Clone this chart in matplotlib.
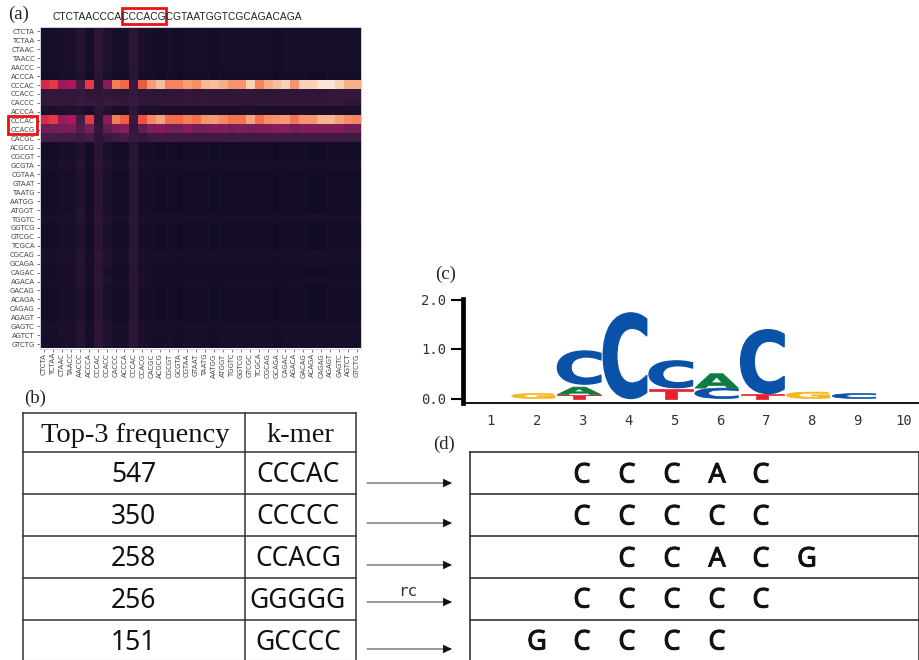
import matplotlib
matplotlib.use("Agg")
import matplotlib.pyplot as plt
import matplotlib.patheffects as pe
import numpy as np
from matplotlib.colors import LinearSegmentedColormap
from matplotlib.font_manager import FontProperties
from matplotlib.patches import PathPatch, Rectangle
from matplotlib.textpath import TextPath
from matplotlib.transforms import Affine2D

W, H = 920, 660
sequence = "CTCTAACCCACCCACGCGTAATGGTCGCAGACAGA"
kmers = ["CTCTA","TCTAA","CTAAC","TAACC","AACCC","ACCCA","CCCAC","CCACC","CACCC","ACCCA","CCCAC","CCACG",
         "CACGC","ACGCG","CGCGT","GCGTA","CGTAA","GTAAT","TAATG","AATGG","ATGGT","TGGTC","GGTCG","GTCGC",
         "TCGCA","CGCAG","GCAGA","CAGAC","AGACA","GACAG","ACAGA","CAGAG","AGAGT","GAGTC","AGTCT","GTCTG"]

quiet = [.07,.07,.08,.08,.11,.07,.13,.09,.07,.07,.13,.08,.07,.06,.07,.06,.07,.07,.07,.06,.07,.07,.07,.07,.07,.07,.06,.07,.07,.07,.07,.07,.07,.07,.07,.07]
lowest = [.06,.06,.07,.07,.10,.06,.125,.08,.06,.06,.125,.07,.06,.05,.06,.05,.06,.06,.06,.05,.06,.06,.06,.06,.06,.06,.05,.06,.06,.06,.05,.05,.06,.06,.06,.06]
faint = [.075,.075,.085,.085,.115,.07,.135,.095,.075,.075,.135,.08,.075,.07,.075,.07,.075,.075,.075,.07,.075,.075,.075,.075,.075,.075,.07,.075,.075,.075,.075,.075,.075,.075,.075,.075]
cccac_a = [.57,.62,.42,.48,.20,.62,.13,.38,.78,.72,.17,.68,.85,.92,.79,.79,.85,.81,.91,.92,.89,.83,.83,.95,.79,.89,.92,.95,.83,.95,.95,.99,.99,.95,.89,.89]
ccacc = [.15,.15,.15,.15,.16,.13,.13,.15,.14,.13,.16,.13,.13,.13,.13,.14,.15,.14,.15,.14,.14,.14,.15,.15,.14,.13,.13,.14,.13,.14,.14,.14,.15,.15,.16,.16]
caccc = [.15,.15,.16,.15,.17,.16,.15,.17,.16,.15,.17,.15,.14,.15,.15,.15,.15,.15,.15,.15,.15,.15,.15,.14,.15,.15,.15,.15,.15,.15,.15,.15,.15,.15,.14,.14]
accca = [.08,.08,.09,.09,.10,.07,.13,.10,.08,.08,.14,.08,.08,.08,.08,.08,.08,.08,.08,.08,.08,.08,.08,.08,.08,.07,.08,.08,.08,.08,.08,.08,.08,.08,.08,.08]
cccac_b = [.57,.62,.42,.48,.20,.62,.13,.38,.77,.70,.17,.67,.80,.86,.74,.73,.78,.74,.83,.84,.80,.75,.75,.86,.74,.81,.83,.84,.75,.83,.83,.90,.90,.85,.81,.79]
ccacg = [.32,.32,.34,.34,.24,.34,.15,.28,.34,.38,.15,.27,.37,.38,.33,.33,.38,.33,.33,.36,.36,.33,.36,.33,.35,.36,.38,.38,.33,.36,.36,.35,.36,.36,.32,.32]
cacgc = [.20,.20,.20,.20,.18,.20,.13,.17,.18,.20,.17,.15,.18,.19,.19,.18,.19,.18,.18,.19,.19,.18,.19,.18,.19,.19,.19,.19,.18,.19,.19,.19,.19,.19,.18,.18]
heat_rows = [quiet,quiet,quiet,quiet,quiet,lowest,cccac_a,ccacc,caccc,accca,cccac_b,ccacg,cacgc,
             lowest,lowest,faint,lowest,lowest,lowest,lowest,lowest,faint,lowest,lowest,lowest,
             faint,quiet,lowest,quiet,lowest,lowest,lowest,lowest,faint,quiet,quiet]

logo_pos = [2,3,3,3,4,5,5,6,6,7,7,8,9]
logo_base = ["G","T","A","C","C","T","C","C","A","T","C","G","C"]
logo_bottom = [0,0,.08,.29,0,0,.22,0,.21,0,.10,0,0]
logo_top = [.10,.08,.23,.96,1.73,.20,.76,.21,.50,.10,1.39,.13,.10]
logo_colors = {"A":"#0b7d3e","C":"#0a52a8","G":"#f6b71c","T":"#e8212e"}
logo_xticks = list(range(1,11))
logo_yticks = [0.0,1.0,2.0]

table_head = ["Top-3 frequency","k-mer"]
frequency = ["547","350","258","256","151"]
top_kmers = ["CCCAC","CCCCC","CCACG","GGGGG","GCCCC"]
alignment = [" CCCAC"," CCCCC","  CCACG"," CCCCC","GCCCC"]
align_x = [537,582,627,672,717,761,807]
row_lines = [452,494,536,578,620]
arrow_y = [483,523,565,602,649]

rocket = LinearSegmentedColormap.from_list("rk",["#03051a","#221331","#451c47","#6a1f56","#921c5b","#b91657",
                                                 "#e13342","#f06043","#f58860","#f6b48e","#faebdd"])
plt.rcParams["font.family"] = "DejaVu Sans"
fig = plt.figure(figsize=(W/100,H/100),dpi=100,facecolor="white")

def px_axes(x0,y0,x1,y1,**k):
    return fig.add_axes([x0/W,1-y1/H,(x1-x0)/W,(y1-y0)/H],**k)

# (a) heat map
ax = px_axes(39.5,27,361.5,348.5)
ax.imshow(np.array(heat_rows),cmap=rocket,vmin=0,vmax=1,aspect="auto",interpolation="nearest")
ax.set_xticks(range(len(kmers)),kmers,rotation=90,fontsize=5,color="#444444")
ax.set_yticks(range(len(kmers)),kmers,fontsize=5,color="#444444")
ax.tick_params(length=2,width=.5,pad=1.5,color="#444444")
for s in ax.spines.values():
    s.set_color("#d4d4e0"); s.set_linewidth(.7)

# (c) sequence logo
lg = px_axes(463,299,920,403)
lg.set_xlim(1-(491-463)/45.8,1+(920-491)/45.8)
lg.set_ylim(-(403-398.5)/49.5,(398.5-299)/49.5)
fp = FontProperties(family="DejaVu Sans",weight="bold")
for p,b,y0,y1 in zip(logo_pos,logo_base,logo_bottom,logo_top):
    tp = TextPath((0,0),b,size=1,prop=fp)
    e = tp.get_extents()
    tr = Affine2D().translate(-e.x0,-e.y0).scale(.95/e.width,(y1-y0)/e.height).translate(p-.55,y0)
    lw = 1.0 if b == "C" and y1-y0 > .5 else .5
    lg.add_patch(PathPatch(tp,transform=tr+lg.transData,fc=logo_colors[b],ec=logo_colors[b],lw=lw))
lg.set_xticks(logo_xticks,[str(v) for v in logo_xticks],fontsize=10,family="DejaVu Sans Mono",color="#333333")
lg.set_yticks(logo_yticks,[f"{v:.1f}" for v in logo_yticks],fontsize=10,family="DejaVu Sans Mono",color="#333333")
lg.tick_params(axis="x",length=0,pad=8)
lg.tick_params(axis="y",length=9,width=1.5,pad=3)
for s in ["top","right"]:
    lg.spines[s].set_visible(False)
lg.spines["left"].set_linewidth(3.4)
lg.spines["bottom"].set_linewidth(1.3)

# overlay in figure pixels
ov = px_axes(0,0,W,H)
ov.set_xlim(0,W); ov.set_ylim(H,0); ov.axis("off"); ov.patch.set_alpha(0)
serif = "Liberation Serif"
for t,x,y in [("(a)",19,14),("(b)",35,398),("(c)",446,274),("(d)",444,444)]:
    ov.text(x,y,t,family=serif,fontsize=13.5,ha="center",va="center",color="#222222")
ov.text(177.5,17,sequence,family="Liberation Sans",fontsize=7.35,ha="center",va="center",color="#222222")
for x,y,w,h in [(122,8,44,16),(8,116,29,18)]:
    ov.add_patch(Rectangle((x,y),w,h,fc="none",ec="#ee1111",lw=2))

lc = "#333333"
# (b) table
tab_x = [23,245,356]
tab_y = [413]+row_lines
for y in tab_y:
    ov.plot(tab_x[::2],[y,y],color=lc,lw=1.1)
ov.plot(tab_x[::2],[659.5,659.5],color="#bbbbbb",lw=.8)
for x in tab_x:
    ov.plot([x,x],[413,660],color=lc,lw=1.1)
ov.text(135,435,table_head[0],family=serif,fontsize=20.5,ha="center",va="center",color="#111111")
ov.text(300,435,table_head[1],family=serif,fontsize=20.5,ha="center",va="center",color="#111111")
row_mid = [475.5,517.5,559.5,600.5,642.5]
heavy = [pe.withStroke(linewidth=.7,foreground="#111111")]
for m,f,k in zip(row_mid,frequency,top_kmers):
    ov.text(133.5,m,f,family="Noto Sans",fontsize=19,ha="center",va="center",color="#111111")
    ov.text(298,m,k,family="Noto Sans",fontsize=19,ha="center",va="center",color="#111111")

# arrows
for y in arrow_y:
    ov.annotate("",xy=(452,y),xytext=(367,y),arrowprops=dict(arrowstyle="-|>,head_length=.55,head_width=.26",
                color="#111111",lw=.6,shrinkA=0,shrinkB=0))
ov.text(408,592,"rc",family="DejaVu Sans Mono",fontsize=11.5,ha="center",va="center",color="#333333")

# (d) alignment
for y in row_lines:
    ov.plot([470,919],[y,y],color=lc,lw=1.2)
for x in [470,919]:
    ov.plot([x,x],[452,660],color=lc,lw=1.2)
for m,row in zip(row_mid,alignment):
    for i,ch in enumerate(row):
        if ch != " ":
            ov.text(align_x[i],m,ch,family="Noto Sans",fontsize=19.5,ha="center",va="center",color="#111111",path_effects=heavy)

fig.savefig("out.png",dpi=100,facecolor="white")
